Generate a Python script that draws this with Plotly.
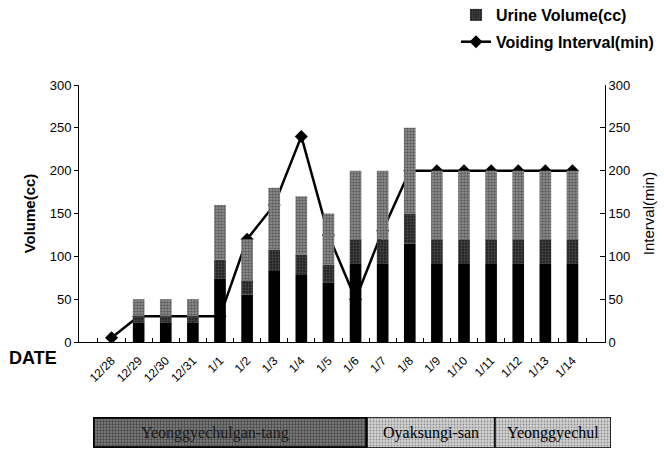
import plotly.graph_objects as go

# ---- data -------------------------------------------------------------
dates = ["12/28", "12/29", "12/30", "12/31", "1/1", "1/2", "1/3", "1/4", "1/5",
         "1/6", "1/7", "1/8", "1/9", "1/10", "1/11", "1/12", "1/13", "1/14"]
urine_volume = [0, 50, 50, 50, 160, 120, 180, 170, 150,
                200, 200, 250, 200, 200, 200, 200, 200, 200]
voiding_interval = [5, 30, 30, 30, 30, 120, 160, 240, 125,
                    50, 130, 200, 200, 200, 200, 200, 200, 200]
regimens = ["Yeonggyechulgan-tang", "Oyaksungi-san", "Yeonggyechul"]

# ---- page geometry (pixels) ------------------------------------------
W, H = 664, 450
M_L, M_R, M_T, M_B = 79, 50, 85, 2
PLOT_W = W - M_L - M_R
PLOT_H = H - M_T - M_B


def fx(px):
    return (px - M_L) / PLOT_W


def fy(py):
    return (H - M_B - py) / PLOT_H


MAIN_X = [0, fx(605)]
MAIN_Y = [fy(342), 1]
BAND_EDGES = [93, 367, 495, 611]          # regimen table column edges
BAND_Y = [fy(448), fy(417)]

SANS = "Liberation Sans, Arial, sans-serif"
NARROW = "Liberation Sans Narrow, Arial Narrow, Liberation Sans, Arial, sans-serif"
SERIF = "Liberation Serif, Times New Roman, serif"

fig = go.Figure()

# ---- urine volume bars: dark base fading into a speckled grey top ------
shade_bands = [
    (0.00, 0.46, "#000000", None, False),
    (0.46, 0.60, "#2a2a2a", dict(shape=".", fgcolor="#6e6e6e", bgcolor="#202020",
                                 size=3, solidity=0.45), True),
    (0.60, 1.00, "#808080", dict(shape=".", fgcolor="#262626", bgcolor="#929292",
                                 size=3, solidity=0.5), False),
]
for lo, hi, col, pat, show in shade_bands:
    marker = dict(color=col, line=dict(width=0))
    if pat:
        marker["pattern"] = pat
    fig.add_trace(go.Bar(
        x=dates,
        y=[v * (hi - lo) for v in urine_volume],
        base=[v * lo for v in urine_volume],
        width=0.43,
        name="Urine Volume(cc)",
        legendgroup="vol",
        showlegend=show,
        marker=marker,
        xaxis="x", yaxis="y2",
        hoverinfo="skip",
    ))

# ---- voiding interval line (drawn beneath the bars) --------------------
fig.add_trace(go.Scatter(
    x=dates, y=voiding_interval,
    mode="lines+markers",
    name="Voiding Interval(min)",
    legendgroup="int",
    line=dict(color="black", width=2.5),
    marker=dict(symbol="diamond", size=10, color="black"),
    xaxis="x", yaxis="y",
))

# ---- regimen table under the date axis ---------------------------------
band_styles = [
    dict(color="#6a6a6a", pattern=dict(shape=".", fgcolor="#0a0a0a", bgcolor="#7e7e7e",
                                       size=3, solidity=0.45),
         line=dict(color="black", width=3.5)),
    dict(color="#c4c4c4", pattern=dict(shape=".", fgcolor="#4a4a4a", bgcolor="#d2d2d2",
                                       size=3, solidity=0.3),
         line=dict(color="black", width=1.5)),
    dict(color="#c4c4c4", pattern=dict(shape=".", fgcolor="#4a4a4a", bgcolor="#d2d2d2",
                                       size=3, solidity=0.3),
         line=dict(color="black", width=1.5)),
]
for i, name in enumerate(regimens):
    x0, x1 = BAND_EDGES[i], BAND_EDGES[i + 1]
    fig.add_trace(go.Bar(
        y=[0], x=[x1 - x0], base=[x0], orientation="h", width=1,
        marker=band_styles[i], showlegend=False, hoverinfo="skip",
        xaxis="x3", yaxis="y3",
    ))
    cx = (x0 + x1) / 2 - (15 if i == 0 else 0)
    fig.add_annotation(x=cx, y=0, xref="x3", yref="y3", text=name,
                       showarrow=False,
                       font=dict(family=SERIF, size=16,
                                 color="#1a1a1a" if i == 0 else "black"))

fig.add_annotation(x=fx(7), y=fy(358), xref="paper", yref="paper",
                   xanchor="left", yanchor="middle", text="<b>DATE</b>",
                   showarrow=False, font=dict(family=SANS, size=18, color="black"))

fig.update_layout(
    width=W, height=H,
    margin=dict(l=M_L, r=M_R, t=M_T, b=M_B, pad=0, autoexpand=False),
    paper_bgcolor="white", plot_bgcolor="white",
    barmode="overlay",
    showlegend=True,
    legend=dict(x=fx(456), y=fy(-2), xanchor="left", yanchor="top",
                traceorder="grouped", tracegroupgap=3,
                font=dict(family=SANS, size=16, color="black", weight="bold"),
                bgcolor="rgba(0,0,0,0)", itemwidth=30),
    xaxis=dict(domain=MAIN_X, anchor="y", type="category",
               categoryorder="array", categoryarray=dates,
               showline=True, linecolor="black", linewidth=1,
               ticks="inside", tickson="boundaries", ticklen=4,
               tickcolor="black", tickangle=-45, automargin=False,
               ticklabelstandoff=6,
               tickfont=dict(family=SANS, size=12, color="black"),
               showgrid=False, zeroline=False, fixedrange=True),
    yaxis=dict(domain=MAIN_Y, anchor="x", side="right", range=[0, 300],
               dtick=50, showline=True, linecolor="black", linewidth=1,
               ticks="inside", ticklen=5, tickcolor="black", automargin=False,
               tickfont=dict(family=NARROW, size=13, color="black"),
               title=dict(text="Interval(min)", standoff=14,
                          font=dict(family=SANS, size=15, color="black")),
               showgrid=False, zeroline=False),
    yaxis2=dict(overlaying="y", anchor="x", side="left", range=[0, 300],
                dtick=50, showline=True, linecolor="black", linewidth=1,
                ticks="outside", ticklen=4, tickcolor="black", automargin=False,
                tickfont=dict(family=NARROW, size=13, color="black"),
                title=dict(text="<b>Volume(cc)</b>", standoff=10,
                           font=dict(family=SANS, size=15, color="black")),
                showgrid=False, zeroline=False),
    xaxis3=dict(domain=[fx(BAND_EDGES[0]), fx(BAND_EDGES[-1])], anchor="y3",
                range=[BAND_EDGES[0], BAND_EDGES[-1]], visible=False,
                fixedrange=True),
    yaxis3=dict(domain=BAND_Y, anchor="x3", range=[-0.5, 0.5], visible=False,
                fixedrange=True),
)

fig.write_html("out.html")
